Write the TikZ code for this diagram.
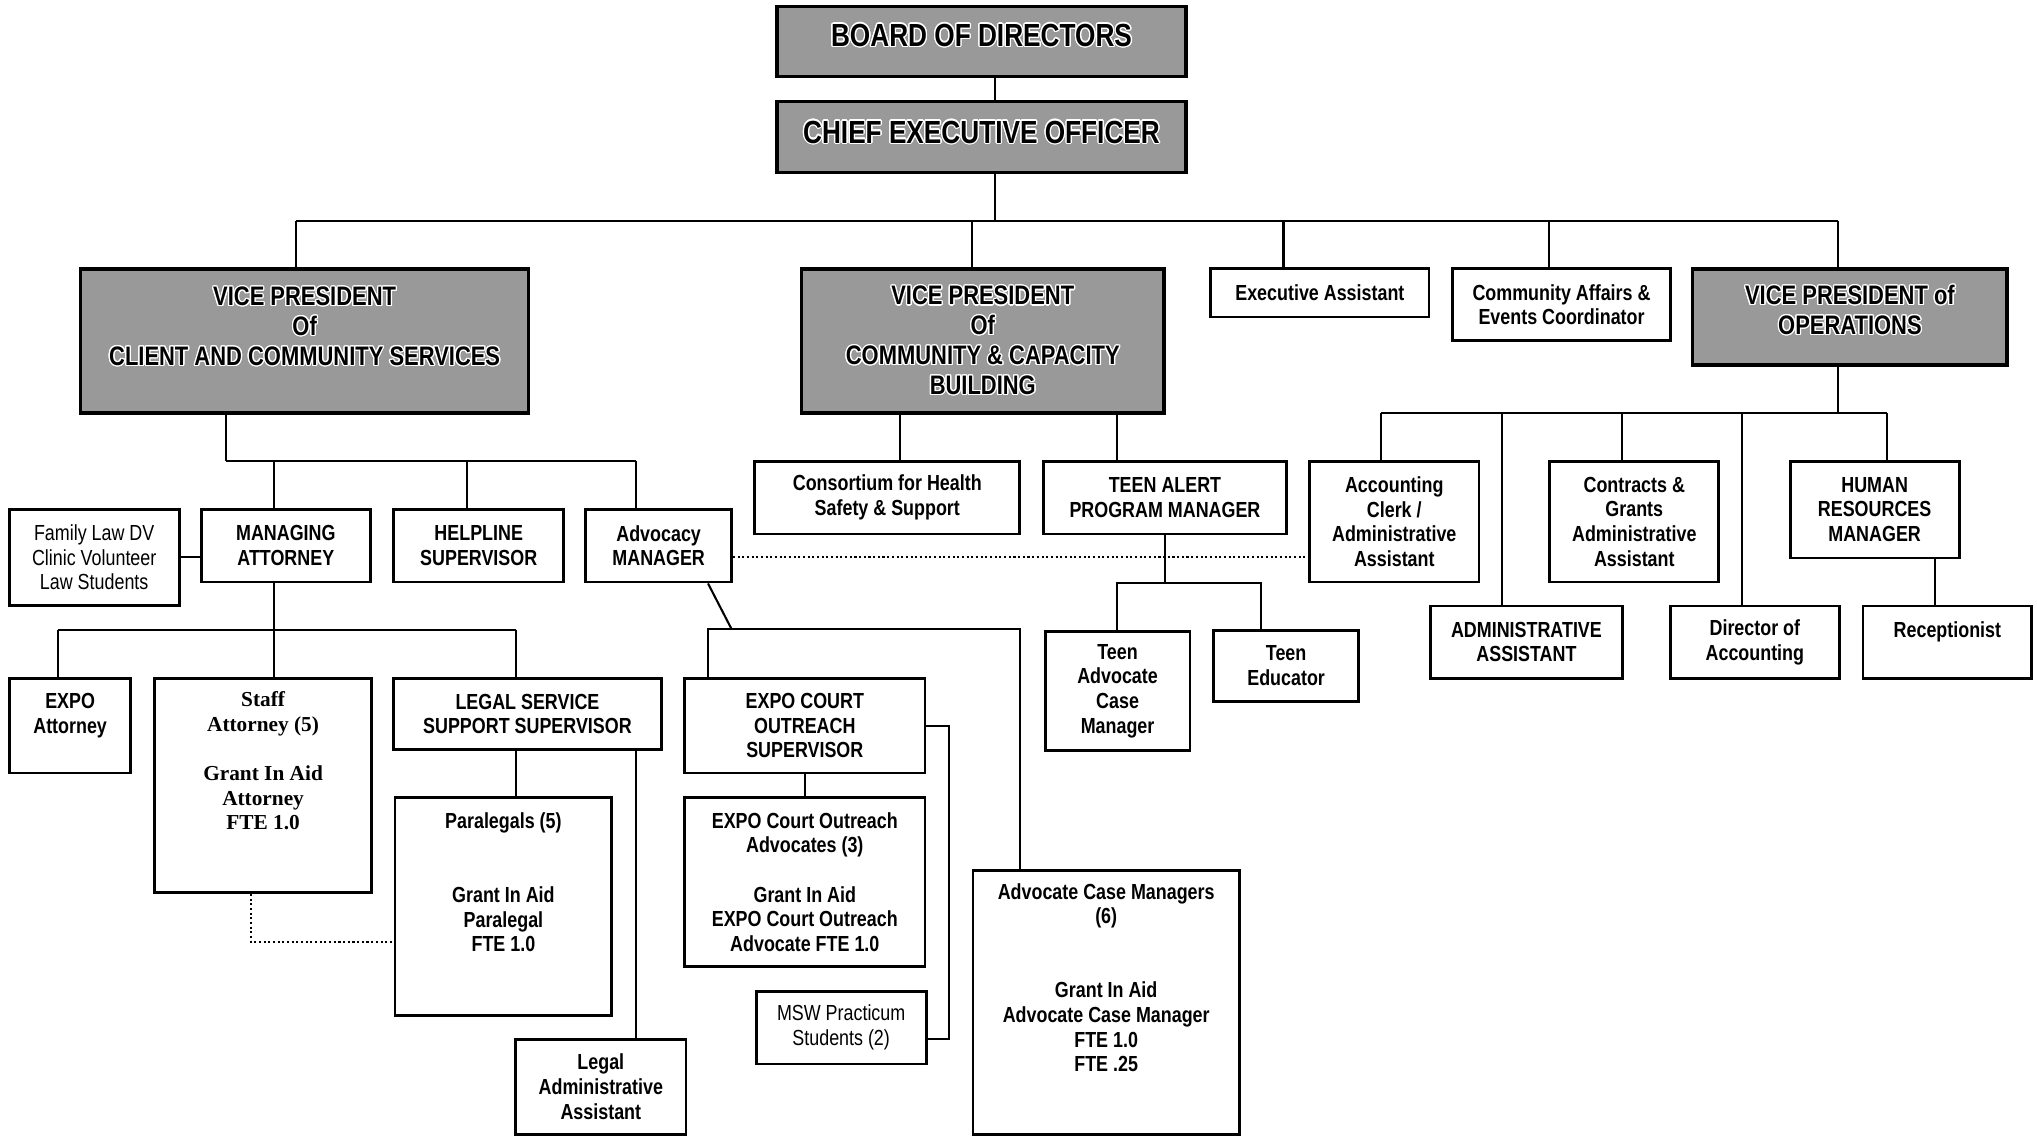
\documentclass[tikz,border=0pt]{standalone}
\usepackage{fontspec}
\setmainfont{Liberation Sans}[FakeStretch=0.82]
\newfontfamily\timesfont{Liberation Serif}
\usepackage[copies]{contour}
\contourlength{0.5pt}
\usepackage{tikz}
\usetikzlibrary{positioning}

\newcommand{\boardfont}{\fontsize{12.3pt}{14pt}\selectfont\bfseries}
\newcommand{\vpfont}{\fontsize{10.3pt}{11.5pt}\selectfont\bfseries}
\newcommand{\unitfont}{\fontsize{8.4pt}{9.5pt}\selectfont\bfseries}
\newcommand{\plainunitfont}{\fontsize{8.4pt}{9.5pt}\selectfont}
\newcommand{\serifunitfont}{\timesfont\fontsize{8.2pt}{9.5pt}\selectfont\bfseries}
\newcommand{\halo}[1]{\contour{white}{#1}}

\begin{document}
\begin{tikzpicture}[
            x = 0.5pt, y = -0.5pt, % one unit = one pixel of the chart
            line width = 0.8pt, % connector style
            orgbox/.style = {draw, line width = 1.1pt, fill = white,
                align = center, inner sep = 0pt, font = \unitfont},
            vpbox/.style = {orgbox, fill = black!40, line width = 1.3pt, font = \vpfont},
            boxsize/.style 2 args = {minimum width = #1*0.5pt, minimum height = #2*0.5pt}
        ]

        \useasboundingbox (0,0) rectangle (1568,874);

        % top of the chart
        \node[vpbox, boxsize={315}{54}, font=\boardfont, text depth=5pt] (board) at (755.5,32) {\halo{BOARD OF DIRECTORS}};
        \node[vpbox, boxsize={315}{55}, font=\boardfont, text depth=4pt] (ceo) at (755.5,105.5) {\halo{CHIEF EXECUTIVE OFFICER}};

        \node[vpbox, boxsize={345}{111}] (vpccs) at (234.5,262.5) {\halo{VICE PRESIDENT}\\\halo{Of}\\\halo{CLIENT AND COMMUNITY SERVICES}\\~};
        \node[vpbox, boxsize={279}{111}] (vpccb) at (756.5,262.5) {\halo{VICE PRESIDENT}\\\halo{Of}\\\halo{COMMUNITY \& CAPACITY}\\\halo{BUILDING}};
        \node[orgbox, boxsize={168}{37}] (execasst) at (1016,225.5) {Executive Assistant};
        \node[orgbox, boxsize={168}{55}] (commaff) at (1202,234.5) {Community Affairs \&\\Events Coordinator};
        \node[vpbox, boxsize={242}{74}, text depth=5.5pt] (vpops) at (1424,244) {\halo{VICE PRESIDENT of}\\\halo{OPERATIONS}};

        % client and community services
        \node[orgbox, boxsize={131}{74}, font=\plainunitfont] (family) at (72.5,429) {Family Law DV\\Clinic Volunteer\\Law Students};
        \node[orgbox, boxsize={130}{56}] (mgatty) at (220,420) {MANAGING\\ATTORNEY};
        \node[orgbox, boxsize={131}{56}] (helpline) at (368.5,420) {HELPLINE\\SUPERVISOR};
        \node[orgbox, boxsize={112}{56}] (advocacy) at (507,420) {Advocacy\\MANAGER};

        \node[orgbox, boxsize={93.5}{73}] (expoatty) at (54,558.5) {EXPO\\Attorney\\~};
        \node[orgbox, boxsize={167}{165}, font=\serifunitfont] (staffatty) at (202.5,604.5) {Staff\\Attorney (5)\\~\\Grant In Aid\\Attorney\\FTE 1.0\\~\\~};
        \node[orgbox, boxsize={206}{55}] (legalsvc) at (406,549.5) {LEGAL SERVICE\\SUPPORT SUPERVISOR};
        \node[orgbox, boxsize={167}{168}] (paralegals) at (387.5,698) {Paralegals (5)\\~\\~\\Grant In Aid\\Paralegal\\FTE 1.0\\~\\~};
        \node[orgbox, boxsize={131}{73}] (legaladmin) at (462.5,836.5) {Legal\\Administrative\\Assistant};

        \node[orgbox, boxsize={185}{73}] (expocourt) at (619.5,558.5) {EXPO COURT\\OUTREACH\\SUPERVISOR};
        \node[orgbox, boxsize={185}{130}] (advocates) at (619.5,679) {EXPO Court Outreach\\Advocates (3)\\~\\Grant In Aid\\EXPO Court Outreach\\Advocate FTE 1.0};
        \node[orgbox, boxsize={131}{56}, font=\plainunitfont] (msw) at (647.5,791) {MSW Practicum\\Students (2)};
        \node[orgbox, boxsize={205}{203}] (acm) at (851.5,771.5) {Advocate Case Managers\\(6)\\~\\~\\Grant In Aid\\Advocate Case Manager\\FTE 1.0\\FTE .25\\~\\~};

        % community and capacity building
        \node[orgbox, boxsize={204}{56}] (consortium) at (683,383) {Consortium for Health\\Safety \& Support};
        \node[orgbox, boxsize={186.5}{56}] (teenalert) at (896.75,383) {TEEN ALERT\\PROGRAM MANAGER};
        \node[orgbox, boxsize={111.5}{92}] (teenacm) at (860.25,532) {Teen\\Advocate\\Case\\Manager};
        \node[orgbox, boxsize={112}{55}] (teenedu) at (990,512.5) {Teen\\Educator};

        % operations
        \node[orgbox, boxsize={130.5}{93}] (accounting) at (1073.25,401.5) {Accounting\\Clerk /\\Administrative\\Assistant};
        \node[orgbox, boxsize={130}{93}] (contracts) at (1258,401.5) {Contracts \&\\Grants\\Administrative\\Assistant};
        \node[orgbox, boxsize={130}{74.5}] (hr) at (1443,392.25) {HUMAN\\RESOURCES\\MANAGER};
        \node[orgbox, boxsize={148}{55.5}] (adminasst) at (1175,494.25) {ADMINISTRATIVE\\ASSISTANT};
        \node[orgbox, boxsize={130.4}{55.5}] (director) at (1350.8,494.25) {Director of\\Accounting};
        \node[orgbox, boxsize={130}{55.5}] (reception) at (1499,494.25) {Receptionist\\~};

        % board, ceo and the vice presidents
        \coordinate (c0) at (766,170);
        \draw (board.south -| c0) -- (ceo.north -| c0);
        \draw (ceo.south -| c0) -- (c0);
        \foreach \n/\x in {vpccs/228, vpccb/748, execasst/988, commaff/1192, vpops/1415} {
            \coordinate (j-\n) at (\x,170);
            \draw (j-\n) -- (\n.north -| j-\n);
        }
        \draw (j-vpccs) -- (j-vpops);

        % client and community services
        \coordinate (c1) at (174,354.6);
        \draw (vpccs.south -| c1) -- (c1);
        \foreach \n/\x in {mgatty/211, helpline/359.5, advocacy/489.5} {
            \coordinate (j-\n) at (\x,354.6);
            \draw (j-\n) -- (\n.north -| j-\n);
        }
        \draw (c1) -- (j-advocacy);
        \coordinate (f1) at (146,429);
        \draw (family.east |- f1) -- (mgatty.west |- f1);

        \coordinate (c2) at (211,485);
        \draw (mgatty.south -| c2) -- (c2);
        \foreach \n/\x in {expoatty/44.6, staffatty/211, legalsvc/397} {
            \coordinate (j-\n) at (\x,485);
            \draw (j-\n) -- (\n.north -| j-\n);
        }
        \draw (j-expoatty) -- (j-legalsvc);
        \draw (legalsvc.south -| j-legalsvc) -- (paralegals.north -| j-legalsvc);
        \coordinate (l1) at (489.5,690);
        \draw (legalsvc.south -| l1) -- (legaladmin.north -| l1);
        \coordinate (d1) at (193,725);
        \draw[densely dotted] (staffatty.south -| d1) -- (d1) -- (paralegals.west |- d1);

        % advocacy manager
        \coordinate (a1) at (545,484);
        \coordinate (a2) at (563,484);
        \coordinate (a3) at (785,484);
        \draw (advocacy.south -| a1) -- (a2);
        \draw (expocourt.north -| a1) -- (a1) -- (a3) -- (acm.north -| a3);
        \draw (expocourt.south) -- (advocates.north);
        \coordinate (m1) at (730.5,559);
        \coordinate (m2) at (730.5,800);
        \draw (expocourt.east |- m1) -- (m1) -- (m2) -- (msw.east |- m2);
        \coordinate (d2) at (800,429);
        \draw[densely dotted] (advocacy.east |- d2) -- (accounting.west |- d2);

        % community and capacity building
        \coordinate (k1) at (693,336);
        \coordinate (k2) at (860,336);
        \draw (vpccb.south -| k1) -- (consortium.north -| k1);
        \draw (vpccb.south -| k2) -- (teenalert.north -| k2);
        \coordinate (t1) at (860,449);
        \coordinate (t2) at (971,449);
        \draw (teenalert.south) -- (teenalert.south |- t1);
        \draw (teenacm.north -| t1) -- (t1) -- (t2) -- (teenedu.north -| t2);

        % operations
        \coordinate (o0) at (1415,318);
        \draw (vpops.south -| o0) -- (o0);
        \foreach \n/\x in {accounting/1063, adminasst/1156, contracts/1248.6, director/1341, hr/1452.6} {
            \coordinate (j-\n) at (\x,318);
            \draw (j-\n) -- (\n.north -| j-\n);
        }
        \draw (j-accounting) -- (j-hr);
        \coordinate (r1) at (1489.5,450);
        \draw (hr.south -| r1) -- (reception.north -| r1);

\end{tikzpicture}
\end{document}
